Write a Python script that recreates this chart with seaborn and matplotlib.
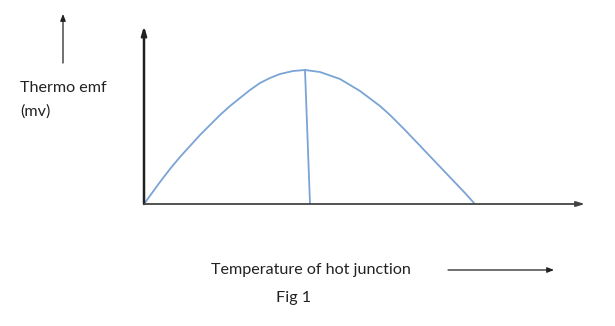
import matplotlib
matplotlib.use("Agg")
import matplotlib.pyplot as plt
import seaborn as sns
import pandas as pd

# Curve (arbitrary units: temperature vs thermo emf)
temperature = [0, 8, 16, 26, 36, 46, 56, 66, 76, 86, 96, 106, 116, 126, 136,
               149, 161, 176, 196, 216, 236, 246, 261, 281, 301, 321, 330]
thermo_emf = [0, 11, 22, 35, 47, 58, 69, 79, 89, 98, 106, 114, 121, 126, 130,
              133, 134, 132, 125, 113, 98, 89, 74, 53, 32, 11, 1]
# Line dropped from the peak (neutral temperature) to the axis
neutral_x = [161, 166]
neutral_y = [134, 0]

xlabel = "Temperature of hot junction"
ylabel_lines = ["Thermo emf", "(mv)"]
caption = "Fig 1"

sns.set_style("white")
plt.rcParams["font.family"] = ["Lato", "DejaVu Sans"]

W, H = 615, 326
fig = plt.figure(figsize=(W / 100, H / 100), dpi=100)

def fx(px):
    return px / W

def fy(py):
    return 1 - py / H

# main axes: origin at (144,204), right end 585, top 26
ax = fig.add_axes([fx(144), fy(204), fx(585) - fx(144), fy(26) - fy(204)])
ax.set_xlim(0, 441)
ax.set_ylim(0, 178)

curve = pd.DataFrame({"temperature": temperature, "emf": thermo_emf})
sns.lineplot(data=curve, x="temperature", y="emf", ax=ax, color="#7aa3d6",
             linewidth=1.3, sort=False, estimator=None)
drop = pd.DataFrame({"temperature": neutral_x, "emf": neutral_y})
sns.lineplot(data=drop, x="temperature", y="emf", ax=ax, color="#7aa3d6",
             linewidth=1.3, sort=False, estimator=None)

for s in ax.spines.values():
    s.set_visible(False)
ax.set_xticks([])
ax.set_yticks([])
ax.set_xlabel("")
ax.set_ylabel("")
ax.patch.set_alpha(0)

# axis lines with arrowheads
ax.annotate("", xy=(0, 1), xytext=(0, 0), xycoords="axes fraction",
            arrowprops=dict(arrowstyle="-|>,head_length=0.5,head_width=0.15",
                            color="#222222", lw=1.8, shrinkA=0, shrinkB=0))
ax.annotate("", xy=(1, 0), xytext=(0, 0), xycoords="axes fraction",
            arrowprops=dict(arrowstyle="-|>,head_length=0.5,head_width=0.15",
                            color="#444444", lw=1.3, shrinkA=0, shrinkB=0))

# free arrows beside the labels
fig.add_artist(matplotlib.patches.FancyArrowPatch(
    (fx(63), fy(63)), (fx(63), fy(14)), transform=fig.transFigure,
    arrowstyle="-|>,head_length=4,head_width=1.6", color="#222222", lw=0.9,
    shrinkA=0, shrinkB=0))
fig.add_artist(matplotlib.patches.FancyArrowPatch(
    (fx(448), fy(270)), (fx(554), fy(270)), transform=fig.transFigure,
    arrowstyle="-|>,head_length=4,head_width=1.6", color="#222222", lw=0.9,
    shrinkA=0, shrinkB=0))

fs = 11.6
fig.text(fx(20), fy(88), ylabel_lines[0], ha="left", va="center", fontsize=fs,
         color="#222222")
fig.text(fx(20), fy(112), ylabel_lines[1], ha="left", va="center", fontsize=fs,
         color="#222222")
fig.text(fx(211), fy(270), xlabel, ha="left", va="center", fontsize=fs,
         color="#222222")
fig.text(fx(276), fy(298), caption, ha="left", va="center", fontsize=fs,
         color="#222222")

fig.savefig("out.png", dpi=100)
